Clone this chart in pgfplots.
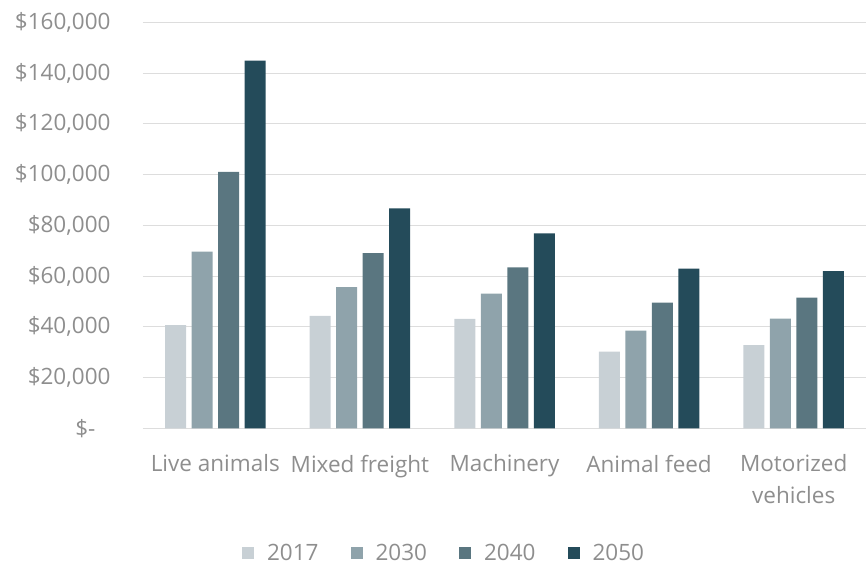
\documentclass[border=0pt]{standalone}
\usepackage{pgfplots}
\pgfplotsset{compat=1.18}
\usepackage{fontspec}
\setmainfont{Open Sans}
\definecolor{txt}{HTML}{8E8E8E}
\definecolor{gridc}{HTML}{DDDDDD}
\definecolor{cA}{HTML}{C8D0D5}
\definecolor{cB}{HTML}{8FA3AB}
\definecolor{cC}{HTML}{5A7680}
\definecolor{cD}{HTML}{244B5A}
\begin{document}
\begin{tikzpicture}
\path[use as bounding box] (-143pt,-136.7pt) rectangle (723pt,428.3pt);
\begin{axis}[
  at={(0,0)}, anchor=south west,
  scale only axis, width=723pt, height=406pt,
  ybar=5.5pt, bar width=21pt,
  xmin=-0.5, xmax=4.5, ymin=0, ymax=160000,
  axis line style={draw=none},
  tick style={draw=none},
  major tick length=0pt,
  xmajorgrids=false,
  ymajorgrids, y grid style={color=gridc, line width=1pt},
  ytick={0,20000,40000,60000,80000,100000,120000,140000,160000},
  yticklabels={\$-\kern15pt,\$20{,}000,\$40{,}000,\$60{,}000,\$80{,}000,\$100{,}000,\$120{,}000,\$140{,}000,\$160{,}000},
  scaled y ticks=false,
  xtick={0,1,2,3,4},
  xticklabels={Live animals,Mixed freight,Machinery,Animal feed,Motorized\\vehicles},
  ticklabel style={font=\fontsize{22.5}{32}\selectfont, text=txt},
  yticklabel style={xshift=-29pt},
  xticklabel style={align=center, yshift=-23pt, anchor=north},
  /pgf/number format/assume math mode=true,
  legend style={draw=none, fill=none, at={(0.424,-0.307)}, anchor=center,
    font=\fontsize{22.5}{26}\selectfont, text=txt,
    /tikz/every even column/.append style={column sep=19pt},
    nodes={inner xsep=13pt}},
  legend columns=4,
  legend image code/.code={\fill[#1] (0pt,-6pt) rectangle (12pt,6pt);},
]
\addplot[fill=cA, draw=none] coordinates {(0,40700) (1,44300) (2,43100) (3,30200) (4,32800)};
\addplot[fill=cB, draw=none] coordinates {(0,69600) (1,55600) (2,53100) (3,38500) (4,43200)};
\addplot[fill=cC, draw=none] coordinates {(0,101100) (1,69000) (2,63400) (3,49500) (4,51500)};
\addplot[fill=cD, draw=none] coordinates {(0,144900) (1,86700) (2,76800) (3,62900) (4,61900)};
\legend{2017,2030,2040,2050}
\end{axis}
\end{tikzpicture}
\end{document}
